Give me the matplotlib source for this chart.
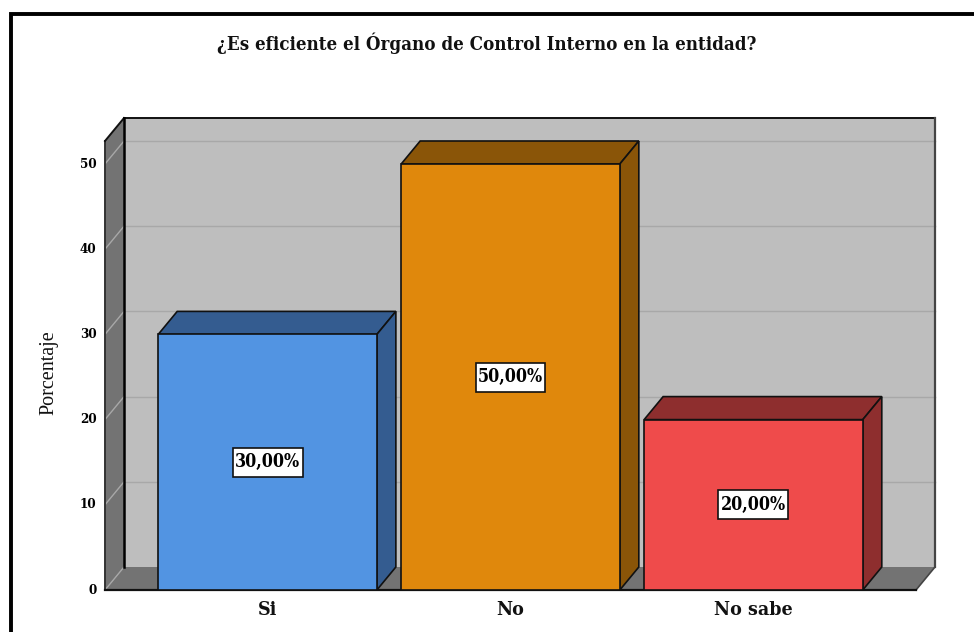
import matplotlib
matplotlib.use('Agg')
import matplotlib.pyplot as plt
from matplotlib.patches import Polygon, Rectangle
from matplotlib.lines import Line2D

categories = ['Si', 'No', 'No sabe']
values = [30, 50, 20]
labels = ['30,00%', '50,00%', '20,00%']
front_colors = ['#5294e2', '#e0880c', '#ef4b4b']
top_colors = ['#345c90', '#8a5508', '#8e2e2e']
yticks = [0, 10, 20, 30, 40, 50]

plt.rcParams['font.family'] = ['DejaVu Serif']
plt.rcParams['font.stretch'] = 'condensed'
W, H = 974, 632

fig = plt.figure(figsize=(W / 100, H / 100), dpi=100)
ax = fig.add_axes([105 / W, 1 - 590 / H, (916 - 105) / W, 449 / H])
ax.set_xlim(-0.669, 2.669)
ax.set_ylim(0, 449 / 8.52)
ax.axis('off')

# depth of the fake 3d box, in data units
dx = 19 / 243
dy = 23 / 8.52
x0, x1 = ax.get_xlim()
ytop = ax.get_ylim()[1]
edge = '#111111'


def poly(pts, color, z, ec=edge, lw=1.2):
    ax.add_patch(Polygon(pts, closed=True, fc=color, ec=ec, lw=lw, zorder=z, clip_on=False))


# back wall, side wall, floor
poly([(x0 + dx, dy), (x1 + dx, dy), (x1 + dx, ytop + dy), (x0 + dx, ytop + dy)], '#bebebe', 1, ec='none')
poly([(x0, 0), (x0 + dx, dy), (x0 + dx, ytop + dy), (x0, ytop)], '#737373', 1.1, ec='none')
poly([(x0, 0), (x1, 0), (x1 + dx, dy), (x0 + dx, dy)], '#737373', 1.2, ec='none')

# gridlines on wall
for t in yticks:
    col = '#a8a8a8'
    ax.add_line(Line2D([x0, x0 + dx], [t, t + dy], color=col, lw=1, zorder=1.5, clip_on=False))
    if t > 0:
        ax.add_line(Line2D([x0 + dx, x1 + dx], [t + dy, t + dy], color=col, lw=1, zorder=1.5, clip_on=False))
    ax.text(x0 - 0.035, t, str(t), ha='right', va='center', fontsize=9.6, fontweight='bold', color='black')

# box outline
outline = [
    ([x0, x0], [0, ytop], '#333333', 1.4),
    ([x0, x0 + dx], [ytop, ytop + dy], edge, 1.4),
    ([x0 + dx, x1 + dx], [ytop + dy, ytop + dy], edge, 1.4),
    ([x0 + dx, x0 + dx], [dy, ytop + dy], 'black', 1.8),
    ([x1 + dx, x1 + dx], [dy, ytop + dy], '#444444', 1.6),
    ([x1, x1 + dx], [0, dy], '#444444', 1.2),
    ([x0, x1], [0, 0], edge, 1.6),
]
for xs, ys, c, lw in outline:
    ax.add_line(Line2D(xs, ys, color=c, lw=lw, zorder=1.6, clip_on=False))

width = 0.9
box_w = 70 / 243
box_h = 29 / 8.52
for i, v in enumerate(values):
    l, r = i - width / 2, i + width / 2
    ax.bar(i, v, width=width, color=front_colors[i], edgecolor=edge, linewidth=1.2, zorder=3)
    poly([(l, v), (r, v), (r + dx, v + dy), (l + dx, v + dy)], top_colors[i], 2.8)
    poly([(r, 0), (r + dx, dy), (r + dx, v + dy), (r, v)], top_colors[i], 2.8)
    ax.add_patch(Rectangle((i - box_w / 2, v / 2 - box_h / 2), box_w, box_h, fc='white', ec=edge, lw=1.2, zorder=4))
    ax.text(i, v / 2, labels[i], ha='center', va='center', fontsize=12.8, fontweight='bold', zorder=5)
    ax.text(i, -2.4, categories[i], ha='center', va='center', fontsize=14, fontweight='bold', color='#111111')

fig.text(487 / W, 1 - 43 / H, '¿Es eficiente el Órgano de Control Interno en la entidad?', ha='center', va='center',
         fontsize=13.4, fontweight='bold', color='#111111')
fig.text(49 / W, 1 - 373 / H, 'Porcentaje', rotation=90, ha='center', va='center', fontsize=14.5,
         family='Liberation Serif', stretch='normal', color='#111111')

# thick black frame that runs off the right and bottom of the image
fig.add_artist(Line2D([10.5 / W, 10.5 / W, 1], [0, 1 - 13.5 / H, 1 - 13.5 / H], color='black', lw=2.8,
                      solid_joinstyle='miter', transform=fig.transFigure))

fig.savefig('out.png', dpi=100)
